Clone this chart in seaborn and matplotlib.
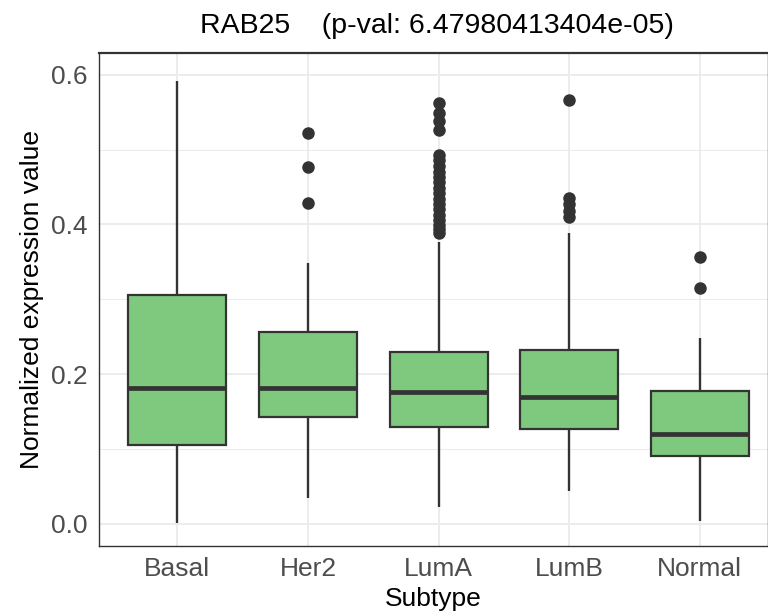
import numpy as np
import pandas as pd
import matplotlib
matplotlib.use("Agg")
import matplotlib.pyplot as plt
import seaborn as sns

# ---- data ----
categories = ["Basal", "Her2", "LumA", "LumB", "Normal"]
whisker_lo = [0.001, 0.035, 0.023, 0.044, 0.004]
q1 = [0.105, 0.142, 0.129, 0.127, 0.091]
medians = [0.182, 0.182, 0.176, 0.170, 0.120]
q3 = [0.306, 0.256, 0.230, 0.2325, 0.177]
whisker_hi = [0.592, 0.349, 0.377, 0.388, 0.248]
outliers = {
    "Basal": [],
    "Her2": [0.522, 0.477, 0.428],
    "LumA": [0.562, 0.549, 0.538, 0.526, 0.493, 0.486, 0.478, 0.470, 0.463,
             0.456, 0.449, 0.442, 0.434, 0.427, 0.420, 0.413, 0.406, 0.399,
             0.394, 0.389],
    "LumB": [0.566, 0.435, 0.427, 0.418, 0.410],
    "Normal": [0.357, 0.315],
}

# Build sample arrays whose box statistics reproduce the values above
rows = []
m = 60
for i, cat in enumerate(categories):
    k = len(outliers[cat])
    vals = ([whisker_lo[i]] * (1 + k) + [q1[i]] * m + [medians[i]] * m +
            [q3[i]] * m + [whisker_hi[i]] + list(outliers[cat]))
    rows += [(cat, v) for v in vals]
df = pd.DataFrame(rows, columns=["Subtype", "value"])

# ---- style ----
sns.set_theme(style="white")
plt.rcParams["font.family"] = ["Liberation Sans", "DejaVu Sans"]

fig = plt.figure(figsize=(7.68, 6.15), dpi=100)
W, H = 768, 615
left, right, top, bottom = 99, 768, 53, 546
ax = fig.add_axes([left / W, 1 - bottom / H, (right - left) / W, (bottom - top) / H])

ink = "#333333"
sns.boxplot(
    data=df, x="Subtype", y="value", order=categories, ax=ax,
    color="#7FC97F", saturation=1, width=0.75, linecolor=ink, linewidth=1.6,
    showcaps=False,
    medianprops=dict(color=ink, linewidth=3.4),
    whiskerprops=dict(color=ink, linewidth=1.7),
    flierprops=dict(marker="o", markerfacecolor=ink, markeredgecolor=ink,
                    markersize=8),
    zorder=3,
)

ax.set_xlim(-0.6, -0.6 + (right - left) / 130.6)
ax.set_ylim(-0.0297, 0.629)
ax.set_yticks([0.0, 0.2, 0.4, 0.6])
ax.set_yticklabels(["0.0", "0.2", "0.4", "0.6"])
ax.set_yticks([0.1, 0.3, 0.5], minor=True)

ax.set_axisbelow(True)
ax.grid(True, which="major", color="#EBEBEB", linewidth=1.3, zorder=0)
ax.grid(True, which="minor", axis="y", color="#EBEBEB", linewidth=0.7, zorder=0)
ax.set_facecolor("white")
for s in ax.spines.values():
    s.set_color(ink)
    s.set_linewidth(1.0)
    s.set_visible(True)
ax.spines["top"].set_linewidth(1.6)

ax.tick_params(axis="both", which="major", direction="out", length=4.5, width=1.2,
               color=ink, labelcolor="#4D4D4D", labelsize=19, pad=3.5)
ax.tick_params(axis="y", which="minor", length=0)

ax.set_xlabel("Subtype", fontsize=19, color="black", labelpad=4)
ax.set_ylabel("Normalized expression value", fontsize=19, color="black", labelpad=5)

fig.text(437 / W, 1 - 26 / H, "RAB25    (p-val: 6.47980413404e-05)",
         ha="center", va="center", fontsize=20.5, color="black")

fig.savefig("out.png", dpi=100)
